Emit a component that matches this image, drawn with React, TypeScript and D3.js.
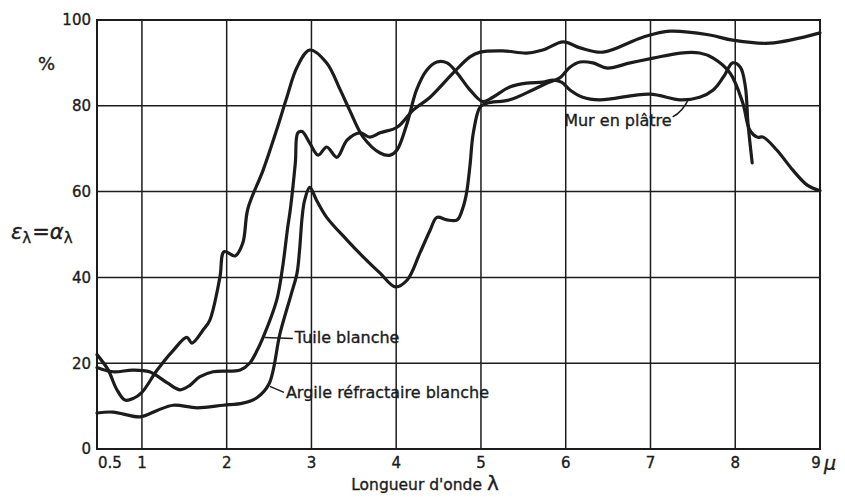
import React from "react";
import * as d3 from "d3";

// wavelength (µm) and emissivity (%)
const tuileLambda = [0.47, 0.66, 0.89, 1.09, 1.3, 1.45, 1.57, 1.68, 1.84, 2.16, 2.27, 2.36, 2.43, 2.59, 2.66, 2.72, 2.75, 2.81, 2.84, 2.89, 2.98, 3.08, 3.18, 3.3, 3.42, 3.57, 3.69, 3.81, 4.01, 4.2, 4.4, 4.67, 4.87, 4.99, 5.26, 5.54, 5.73, 5.97, 6.17, 6.44, 6.91, 7.23, 7.7, 7.97, 8.41, 9.0];
const tuileValues = [19, 18, 18.4, 18, 15.4, 13.8, 14.9, 16.8, 18, 18.4, 20, 23, 26, 34.7, 42.4, 51.7, 55.7, 66.7, 73.7, 74, 71.3, 68.5, 70.4, 68, 72, 73.7, 72.7, 73.7, 75, 79, 82, 87.6, 91.4, 92.5, 92.8, 92.3, 93, 94.9, 93.5, 92.5, 96, 97.4, 96.5, 95.3, 94.6, 97];

const argileLambda = [0.47, 0.66, 0.98, 1.18, 1.37, 1.65, 1.96, 2.19, 2.36, 2.5, 2.63, 2.76, 2.83, 2.86, 2.89, 2.92, 2.98, 3.06, 3.18, 3.42, 3.61, 3.81, 3.99, 4.13, 4.28, 4.4, 4.48, 4.6, 4.72, 4.79, 4.83, 4.87, 4.91, 4.99, 5.07, 5.34, 5.61, 5.78, 5.93, 6.05, 6.17, 6.32, 6.49, 6.76, 7.03, 7.35, 7.58, 7.74, 7.94, 8.09, 8.17, 8.26, 8.33, 8.49, 8.68, 8.85, 9.0];
const argileValues = [8.4, 8.6, 7.5, 9, 10.2, 9.6, 10.2, 10.7, 12, 15.2, 27, 36, 41, 46.4, 54, 58, 61, 58, 54, 48.7, 44.8, 41, 37.8, 39.4, 45.7, 51, 54, 53.4, 53.4, 56.4, 59.7, 66, 73.7, 79.7, 80.6, 81.4, 83.7, 85.3, 86.5, 89, 90.2, 90, 88.8, 90, 91.1, 92.3, 92.3, 91.1, 87.6, 80.6, 74.4, 72.7, 72.7, 69.7, 65, 61.5, 60.2];

const platreLambda = [0.47, 0.6, 0.7, 0.8, 0.9, 1.0, 1.18, 1.37, 1.53, 1.59, 1.72, 1.8, 1.92, 1.97, 2.1, 2.19, 2.25, 2.43, 2.59, 2.71, 2.83, 2.98, 3.18, 3.34, 3.45, 3.61, 3.81, 3.93, 4.01, 4.13, 4.24, 4.36, 4.48, 4.6, 4.72, 4.87, 5.02, 5.14, 5.34, 5.54, 5.73, 5.85, 5.95, 6.05, 6.2, 6.4, 6.99, 7.35, 7.58, 7.74, 7.86, 7.97, 8.06, 8.12, 8.15, 8.2];
const platreValues = [22, 18.5, 14, 11.4, 11.8, 13.2, 18.4, 23, 26, 24.7, 27.7, 30, 40, 46, 45, 48, 56, 65, 74.4, 82, 89, 93, 90, 83.7, 79, 72.7, 69, 68.5, 69.7, 76, 83.7, 88.3, 90.2, 90, 87.6, 83.7, 81, 82, 84.4, 85.3, 85.5, 86, 85.5, 83.7, 82, 81.4, 82.7, 81.4, 82, 83.7, 86.7, 90, 89, 84.4, 76, 66.7];

const yTicks = [0, 20, 40, 60, 80, 100];
const xTicks = [1, 2, 3, 4, 5, 6, 7, 8, 9];
const xGrid = [1, 2, 3, 4, 5, 6, 7, 8];
const yGrid = [20, 40, 60, 80];

const W = 845;
const H = 497;
const FONT = "'DejaVu Sans', 'Liberation Sans', sans-serif";
const INK = "#1c1c1c";

export default function App() {
  const x = d3.scaleLinear().domain([0.47, 9]).range([97, 820]);
  const y = d3.scaleLinear().domain([0, 100]).range([449, 20]);
  const line = d3
    .line<[number, number]>()
    .x((d) => x(d[0]))
    .y((d) => y(d[1]))
    .curve(d3.curveCatmullRom.alpha(0.5));

  const series = [
    { l: tuileLambda, v: tuileValues },
    { l: argileLambda, v: argileValues },
    { l: platreLambda, v: platreValues },
  ];

  // annotation anchors on curves
  const tA: [number, number] = [x(2.45), y(26)];
  const aA: [number, number] = [x(2.51), y(14.6)];
  const mA: [number, number] = [x(7.45), y(81.6)];

  const txt = { fontFamily: FONT, fill: INK, stroke: INK, strokeWidth: 0.35 };

  return (
    <svg width={W} height={H} style={{ position: "absolute", left: 0, top: 0, background: "#fff" }}>
      <rect x={0} y={0} width={W} height={H} fill="#fff" />
      {/* grid */}
      {xGrid.map((t) => (
        <line key={"gx" + t} x1={x(t)} x2={x(t)} y1={y(0)} y2={y(100)} stroke={INK} strokeWidth={1.5} />
      ))}
      {yGrid.map((t) => (
        <line key={"gy" + t} x1={x(0.47)} x2={x(9)} y1={y(t)} y2={y(t)} stroke={INK} strokeWidth={1.5} />
      ))}
      <rect x={x(0.47)} y={y(100)} width={x(9) - x(0.47)} height={y(0) - y(100)} fill="none" stroke={INK} strokeWidth={2} />

      {/* curves */}
      {series.map((s, i) => (
        <path
          key={i}
          d={line(s.l.map((l, j) => [l, s.v[j]] as [number, number])) || ""}
          fill="none"
          stroke={INK}
          strokeWidth={3.2}
          strokeLinejoin="round"
          strokeLinecap="round"
        />
      ))}

      {/* y tick labels */}
      {yTicks.map((t) => (
        <text key={"yt" + t} x={91} y={y(t)} dy="0.36em" textAnchor="end" fontSize={15} {...txt}>
          {t}
        </text>
      ))}
      {/* x tick labels */}
      <text x={x(0.47) + 1} y={468} textAnchor="start" fontSize={15} {...txt}>
        0.5
      </text>
      {xTicks.map((t) => (
        <text key={"xt" + t} x={t === 9 ? x(t) - 4 : x(t)} y={468} textAnchor="middle" fontSize={15} {...txt}>
          {t}
        </text>
      ))}
      <text x={x(9) + 4} y={470} fontSize={19} fontStyle="italic" {...txt}>
        μ
      </text>

      {/* axis titles */}
      <text x={38} y={70} fontSize={18} {...txt}>
        %
      </text>
      <text x={11} y={239} fontSize={21} {...txt}>
        <tspan fontStyle="italic">ε</tspan>
        <tspan fontSize={15} dy={4}>λ</tspan>
        <tspan dy={-4} dx={1}>=</tspan>
        <tspan fontStyle="italic">α</tspan>
        <tspan fontSize={15} dy={4}>λ</tspan>
      </text>
      <text x={425} y={490} textAnchor="middle" fontSize={15.5} {...txt}>
        Longueur d'onde <tspan fontSize={20}>λ</tspan>
      </text>

      {/* annotations */}
      <line x1={tA[0]} y1={tA[1]} x2={tA[0] + 28} y2={tA[1] + 1} stroke={INK} strokeWidth={1.5} />
      <text x={tA[0] + 30} y={tA[1] + 6} fontSize={16} {...txt}>
        Tuile blanche
      </text>
      <line x1={aA[0]} y1={aA[1]} x2={aA[0] + 14} y2={aA[1] + 6} stroke={INK} strokeWidth={1.5} />
      <text x={aA[0] + 16} y={aA[1] + 12} fontSize={16} {...txt}>
        Argile réfractaire blanche
      </text>
      <path
        d={`M${mA[0] - 16},${mA[1] + 18} Q${mA[0] - 6},${mA[1] + 13} ${mA[0]},${mA[1]}`}
        fill="none"
        stroke={INK}
        strokeWidth={1.5}
      />
      <text x={mA[0] - 17} y={mA[1] + 27} textAnchor="end" fontSize={16} {...txt}>
        Mur en plâtre
      </text>
    </svg>
  );
}
